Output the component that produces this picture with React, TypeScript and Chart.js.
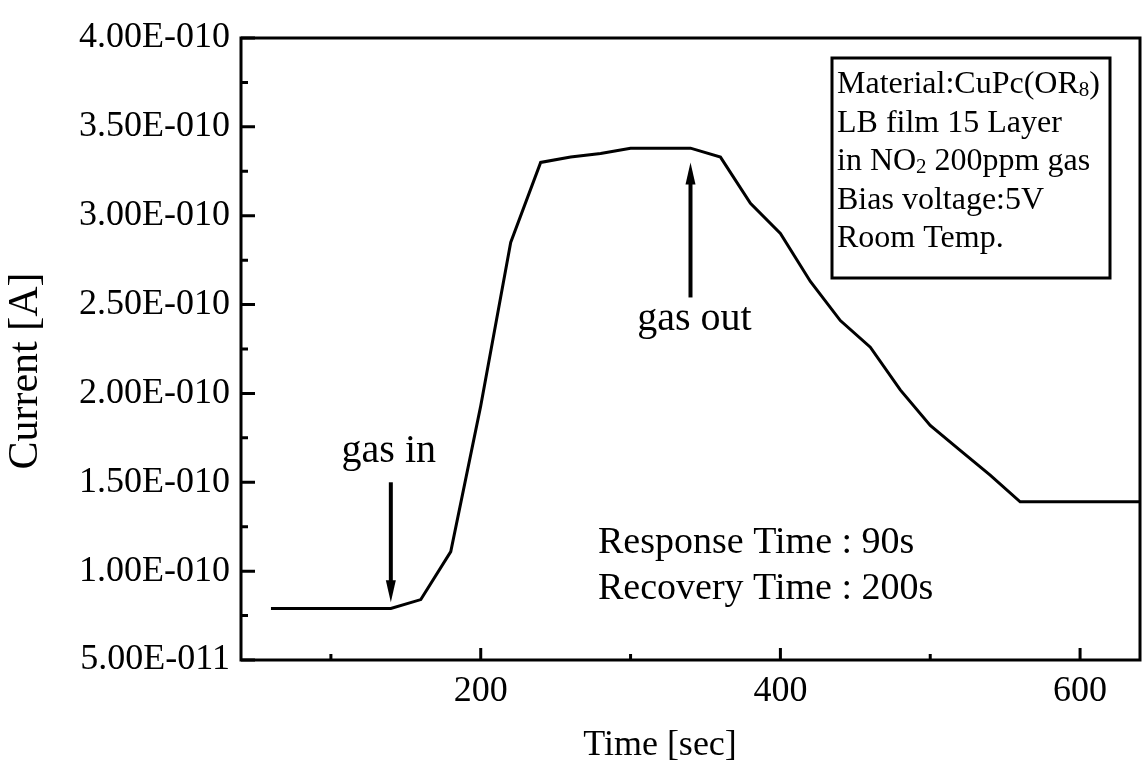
import React, { useEffect, useRef } from 'react';
import { Chart, registerables } from 'chart.js';

Chart.register(...registerables);

// ---- data ----
const timeSec = [60, 80, 100, 120, 140, 160, 180, 200, 220, 240, 260, 280, 300, 320, 340, 360, 380, 400, 420, 440, 460, 480, 500, 520, 540, 560, 580, 600, 620, 640];
const currentA = [
  7.9e-11, 7.9e-11, 7.9e-11, 7.9e-11, 7.9e-11, 8.4e-11, 1.11e-10, 1.93e-10, 2.85e-10, 3.30e-10,
  3.33e-10, 3.35e-10, 3.38e-10, 3.38e-10, 3.38e-10, 3.33e-10, 3.07e-10, 2.90e-10, 2.63e-10, 2.41e-10,
  2.26e-10, 2.02e-10, 1.82e-10, 1.68e-10, 1.54e-10, 1.39e-10, 1.39e-10, 1.39e-10, 1.39e-10, 1.39e-10,
];

const xMin = 40;
const xMax = 640;
const xTickValues = [100, 200, 300, 400, 500, 600];
const xTickLabels = ['', '200', '', '400', '', '600'];
const xMajorTicks = [200, 400, 600];
const xMinorTicks = [100, 300, 500];

const yMin = 5e-11;
const yMax = 4e-10;
const yTickValues = [5e-11, 1e-10, 1.5e-10, 2e-10, 2.5e-10, 3e-10, 3.5e-10, 4e-10];
const yTickLabels = ['5.00E-011', '1.00E-010', '1.50E-010', '2.00E-010', '2.50E-010', '3.00E-010', '3.50E-010', '4.00E-010'];
const yMinorTicks = [7.5e-11, 1.25e-10, 1.75e-10, 2.25e-10, 2.75e-10, 3.25e-10, 3.75e-10];

const xTitle = 'Time [sec]';
const yTitle = 'Current [A]';

// info box lines: [text, subscript?] segments
const infoLines: Array<Array<[string, boolean]>> = [
  [['Material:CuPc(OR', false], ['8', true], [')', false]],
  [['LB film 15 Layer', false]],
  [['in NO', false], ['2', true], [' 200ppm gas', false]],
  [['Bias voltage:5V', false]],
  [['Room Temp.', false]],
];
const noteLines = ['Response Time : 90s', 'Recovery Time : 200s'];

// annotation arrows (data coords)
const gasInArrow = { x: 140, yFrom: 1.5e-10, yTo: 8.25e-11, label: 'gas in' };
const gasOutArrow = { x: 340, yFrom: 2.54e-10, yTo: 3.3e-10, label: 'gas out' };

const SERIF = '"Liberation Serif", "Times New Roman", serif';

function drawArrow(ctx: CanvasRenderingContext2D, x: number, y1: number, y2: number) {
  const dir = y2 > y1 ? 1 : -1;
  const headLen = 22;
  ctx.save();
  ctx.strokeStyle = '#000';
  ctx.fillStyle = '#000';
  ctx.lineWidth = 4;
  ctx.beginPath();
  ctx.moveTo(x, y1);
  ctx.lineTo(x, y2 - dir * headLen * 0.6);
  ctx.stroke();
  ctx.beginPath();
  ctx.moveTo(x, y2);
  ctx.lineTo(x - 5, y2 - dir * headLen);
  ctx.lineTo(x + 5, y2 - dir * headLen);
  ctx.closePath();
  ctx.fill();
  ctx.restore();
}

const decorPlugin = {
  id: 'decor',
  afterDraw(chart: any) {
    const ctx: CanvasRenderingContext2D = chart.ctx;
    const { left, right, top, bottom } = chart.chartArea;
    const xs = chart.scales.x;
    const ys = chart.scales.y;
    ctx.save();
    ctx.strokeStyle = '#000';
    ctx.fillStyle = '#000';

    // frame
    ctx.lineWidth = 3;
    ctx.strokeRect(left, top, right - left, bottom - top);

    // y ticks (inward)
    ctx.lineWidth = 3;
    ctx.beginPath();
    yTickValues.forEach((v) => {
      const py = ys.getPixelForValue(v);
      ctx.moveTo(left, py);
      ctx.lineTo(left + 14, py);
    });
    yMinorTicks.forEach((v) => {
      const py = ys.getPixelForValue(v);
      ctx.moveTo(left, py);
      ctx.lineTo(left + 7, py);
    });
    // x ticks (inward)
    xMajorTicks.forEach((v) => {
      const px = xs.getPixelForValue(v);
      ctx.moveTo(px, bottom);
      ctx.lineTo(px, bottom - 12);
    });
    xMinorTicks.forEach((v) => {
      const px = xs.getPixelForValue(v);
      ctx.moveTo(px, bottom);
      ctx.lineTo(px, bottom - 6);
    });
    ctx.stroke();

    // axis titles
    ctx.font = `36px ${SERIF}`;
    ctx.textAlign = 'center';
    ctx.textBaseline = 'middle';
    ctx.fillText(xTitle, 660, 746);
    ctx.save();
    ctx.translate(26, 371);
    ctx.rotate(-Math.PI / 2);
    ctx.font = `42px ${SERIF}`;
    ctx.fillText(yTitle, 0, 0);
    ctx.restore();

    // arrows + labels
    const gx = xs.getPixelForValue(gasInArrow.x);
    drawArrow(ctx, gx, ys.getPixelForValue(gasInArrow.yFrom), ys.getPixelForValue(gasInArrow.yTo));
    const ox = xs.getPixelForValue(gasOutArrow.x);
    drawArrow(ctx, ox, ys.getPixelForValue(gasOutArrow.yFrom), ys.getPixelForValue(gasOutArrow.yTo));
    ctx.font = `40px ${SERIF}`;
    ctx.textAlign = 'center';
    ctx.textBaseline = 'alphabetic';
    ctx.fillText(gasInArrow.label, gx - 2, 462);
    ctx.fillText(gasOutArrow.label, ox + 4, 330);

    // response / recovery notes
    ctx.font = `38px ${SERIF}`;
    ctx.textAlign = 'left';
    ctx.fillText(noteLines[0], 598, 553);
    ctx.fillText(noteLines[1], 598, 599);

    // info box
    const bx = 832, by = 58, bw = 278, bh = 220;
    ctx.fillStyle = '#fff';
    ctx.fillRect(bx, by, bw, bh);
    ctx.fillStyle = '#000';
    ctx.lineWidth = 3;
    ctx.strokeRect(bx, by, bw, bh);
    infoLines.forEach((segs, i) => {
      let cx = bx + 5;
      const baseY = by + 35 + i * 38.5;
      segs.forEach(([t, sub]) => {
        ctx.font = sub ? `21px ${SERIF}` : `32px ${SERIF}`;
        ctx.fillText(t, cx, sub ? baseY + 3 : baseY);
        cx += ctx.measureText(t).width;
      });
    });

    ctx.restore();
  },
};

export default function App() {
  const canvasRef = useRef<HTMLCanvasElement | null>(null);

  useEffect(() => {
    document.body.style.margin = '0';
    const canvas = canvasRef.current;
    if (!canvas) return;
    const chart = new Chart(canvas, {
      type: 'line',
      data: {
        datasets: [
          {
            data: timeSec.map((t, i) => ({ x: t, y: currentA[i] })),
            borderColor: '#000',
            borderWidth: 3,
            pointRadius: 0,
            tension: 0,
            fill: false,
          },
        ],
      },
      options: {
        animation: false,
        responsive: false,
        maintainAspectRatio: false,
        layout: { padding: { left: 0, top: 38, right: 3, bottom: 0 } },
        plugins: {
          legend: { display: false },
          tooltip: { enabled: false },
          title: { display: false },
        },
        scales: {
          x: {
            type: 'linear',
            min: xMin,
            max: xMax,
            grid: { display: false, drawTicks: false },
            border: { display: false },
            afterBuildTicks: (scale: any) => {
              scale.ticks = xTickValues.map((v) => ({ value: v }));
            },
            afterFit: (scale: any) => {
              scale.height = 114;
            },
            ticks: {
              autoSkip: false,
              maxRotation: 0,
              padding: 10,
              color: '#000',
              font: { family: SERIF, size: 36 },
              callback: (_v: any, i: number) => xTickLabels[i],
            },
          },
          y: {
            type: 'linear',
            min: yMin,
            max: yMax,
            grid: { display: false, drawTicks: false },
            border: { display: false },
            afterBuildTicks: (scale: any) => {
              scale.ticks = yTickValues.map((v) => ({ value: v }));
            },
            afterFit: (scale: any) => {
              scale.width = 241;
            },
            ticks: {
              autoSkip: false,
              padding: 11,
              color: '#000',
              font: { family: SERIF, size: 36 },
              callback: (_v: any, i: number) => yTickLabels[i],
            },
          },
        },
      },
      plugins: [decorPlugin],
    });
    return () => chart.destroy();
  }, []);

  return (
    <div style={{ position: 'absolute', left: 0, top: 0, width: 1143, height: 774, background: '#fff' }}>
      <canvas ref={canvasRef} width={1143} height={774} style={{ width: 1143, height: 774, display: 'block' }} />
    </div>
  );
}
